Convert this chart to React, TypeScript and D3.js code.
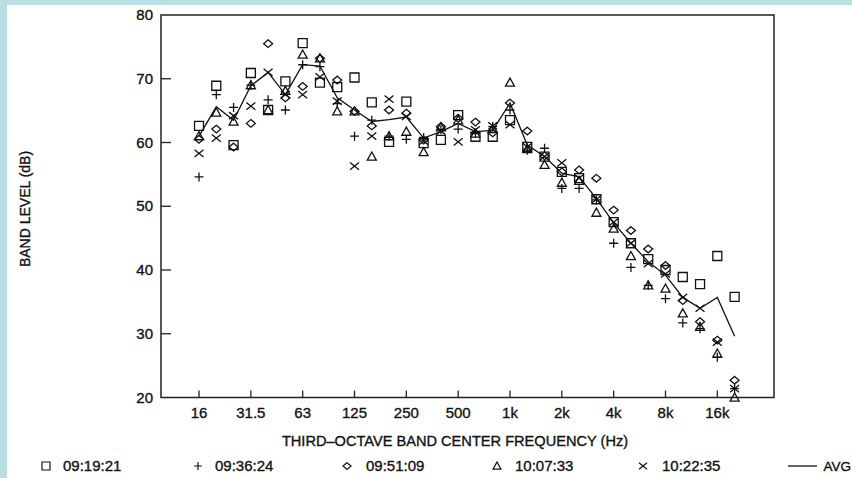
import React from 'react';
import * as d3 from 'd3';

const bands = ['16','20','25','31.5','40','50','63','80','100','125','160','200','250','315','400','500','630','800','1k','1.25k','1.6k','2k','2.5k','3.15k','4k','5k','6.3k','8k','10k','12.5k','16k','20k'];
const tickLabels = ['16','31.5','63','125','250','500','1k','2k','4k','8k','16k'];
const yTicks = [20, 30, 40, 50, 60, 70, 80];

const run091921 = [62.6,68.9,59.6,70.9,65.1,69.6,75.6,69.4,68.7,70.2,66.3,60.1,66.4,59.9,60.4,64.3,60.9,60.9,63.5,59.3,57.8,55.4,54.4,51.1,47.5,44.2,41.7,40.0,38.9,37.8,42.2,35.8];
const run093624 = [54.6,67.5,65.5,69.0,66.7,65.1,72.2,71.9,66.1,61.0,63.5,61.0,60.5,60.8,62.0,62.1,61.4,62.5,65.1,58.8,59.1,52.8,52.8,51.0,44.2,40.4,37.6,35.5,31.7,30.8,26.3,21.4];
const run095109 = [60.5,62.1,59.3,63.0,75.5,67.0,68.8,73.2,69.8,64.9,62.6,65.1,64.6,60.4,62.5,63.8,63.2,61.5,66.2,61.8,57.9,55.4,55.7,54.4,49.4,46.2,43.3,40.7,35.2,31.9,29.0,22.7];
const run100733 = [61.0,64.7,63.3,69.0,65.1,68.1,73.8,73.2,64.9,64.9,57.8,61.0,61.7,58.5,62.4,63.5,61.4,62.1,69.4,59.0,56.5,53.7,54.0,49.0,46.5,42.2,37.6,37.1,33.2,31.1,26.9,20.0];
const run102235 = [58.3,60.7,64.2,65.7,71.0,67.5,67.5,70.3,66.5,56.3,61.0,66.8,64.1,60.2,61.8,60.1,62.0,62.6,62.8,59.3,57.8,56.8,54.4,51.1,47.5,44.2,41.0,39.4,35.7,34.0,28.7,21.4];
const avgLevel = [61.0,65.6,63.5,68.9,71.0,67.5,72.2,72.0,67.0,65.1,63.3,63.6,64.0,60.7,61.7,63.0,61.7,61.9,66.2,59.6,57.8,55.2,54.6,51.2,47.4,44.2,41.3,39.2,35.7,34.0,35.7,29.6];

const seriesNames = ['09:19:21','09:36:24','09:51:09','10:07:33','10:22:35'];
const seriesShapes = ['square','plus','diamond','triangle','cross'];
const seriesValues = [run091921, run093624, run095109, run100733, run102235];

const W = 852, H = 478;
const L = 161, R = 774, T = 15, B = 397.5;
const FONT = '"Liberation Sans", Arial, Helvetica, sans-serif';

function markerPath(shape: string, cx: number, cy: number, s: number): string {
  const h = s / 2;
  switch (shape) {
    case 'square':
      return `M${cx - h},${cy - h}H${cx + h}V${cy + h}H${cx - h}Z`;
    case 'plus':
      return `M${cx - h},${cy}H${cx + h}M${cx},${cy - h}V${cy + h}`;
    case 'diamond':
      return `M${cx},${cy - h * 0.85}L${cx + h},${cy}L${cx},${cy + h * 0.85}L${cx - h},${cy}Z`;
    case 'triangle':
      return `M${cx},${cy - h}L${cx + h},${cy + h * 0.8}L${cx - h},${cy + h * 0.8}Z`;
    case 'cross':
      return `M${cx - h},${cy - h * 0.8}L${cx + h},${cy + h * 0.8}M${cx - h},${cy + h * 0.8}L${cx + h},${cy - h * 0.8}`;
  }
  return '';
}

export default function App() {
  const x = d3.scaleLinear().domain([-2.2, 33.28]).range([L, R]);
  const y = d3.scaleLinear().domain([20, 80]).range([B, T]);
  const line = d3.line<number>().x((_, i) => x(i)).y(d => y(d));

  const tickIdx = tickLabels.map(t => bands.indexOf(t));
  const legendMarkX = [46, 198, 347, 497, 643];
  const legendTextX = [63, 215, 366, 515, 662];
  const textStyle = { fontFamily: FONT, fontSize: 15, fill: '#111', stroke: '#111', strokeWidth: 0.35 } as const;

  return (
    <svg width={W} height={H} style={{ position: 'absolute', left: 0, top: 0, display: 'block' }}>
      <rect x={0} y={0} width={W} height={H} fill="#b8e0e4" />
      <rect x={7} y={5} width={W - 7} height={H - 5} fill="#ffffff" />

      {/* frame */}
      <rect x={L} y={T} width={R - L} height={B - T} fill="none" stroke="#222" strokeWidth={1.5} />

      {/* y ticks */}
      {yTicks.map(v => (
        <g key={'y' + v}>
          {v !== 20 && v !== 80 && <line x1={L} x2={L + 10} y1={y(v)} y2={y(v)} stroke="#222" strokeWidth={1.3} />}
          <text x={153} y={y(v) + 5} textAnchor="end" style={textStyle}>{v}</text>
        </g>
      ))}

      {/* x ticks */}
      {tickIdx.map((i, k) => (
        <g key={'x' + i}>
          <line x1={x(i)} x2={x(i)} y1={B} y2={B - 7} stroke="#222" strokeWidth={1.3} />
          <text x={x(i)} y={418} textAnchor="middle" style={textStyle}>{tickLabels[k]}</text>
        </g>
      ))}

      {/* axis titles */}
      <text x={455} y={446} textAnchor="middle" style={{ ...textStyle, fontSize: 14.6 }}>THIRD–OCTAVE BAND CENTER FREQUENCY (Hz)</text>
      <text transform={`translate(30,209) rotate(-90)`} textAnchor="middle" style={{ ...textStyle, fontSize: 14 }}>BAND LEVEL (dB)</text>

      {/* data points */}
      {seriesValues.map((vals, si) => (
        <g key={'s' + si} fill="none" stroke="#111" strokeWidth={1.3}>
          {vals.map((v, i) => (
            <path key={i} d={markerPath(seriesShapes[si], x(i), y(v), 9)} />
          ))}
        </g>
      ))}

      {/* average line */}
      <path d={line(avgLevel) || ''} fill="none" stroke="#111" strokeWidth={1.3} />

      {/* legend */}
      {seriesNames.map((n, si) => (
        <g key={'lg' + si}>
          <path d={markerPath(seriesShapes[si], legendMarkX[si], 466, 8)} fill="none" stroke="#111" strokeWidth={1.2} />
          <text x={legendTextX[si]} y={471} style={textStyle}>{n}</text>
        </g>
      ))}
      <line x1={788} x2={817} y1={466} y2={466} stroke="#111" strokeWidth={1.3} />
      <text x={851} y={471} textAnchor="end" style={{ ...textStyle, fontSize: 13.5 }}>AVG</text>
    </svg>
  );
}
